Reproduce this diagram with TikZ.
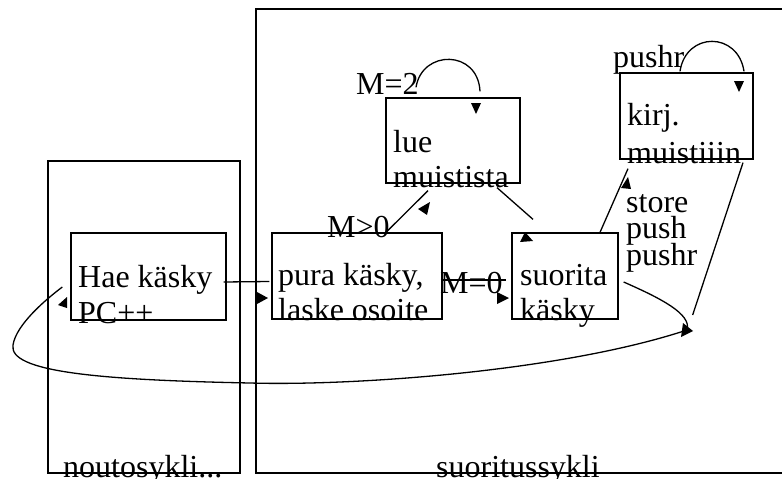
\documentclass[tikz,border=0pt]{standalone}
\usepackage{fontspec}
\setmainfont{Liberation Serif}
\usetikzlibrary{calc}
\begin{document}
\begin{tikzpicture}[x=1pt,y=-1pt,
  box/.style={draw,rectangle,inner sep=0pt,line width=1.3pt},
  lbl/.style={anchor=base west,inner sep=0pt,font=\fontsize{32}{36}\selectfont},
  conn/.style={line width=1.3pt},
  tip/.style={fill=black}]
\useasboundingbox (0,0) rectangle (782,479);
% outer boxes
\node[box,minimum width=192pt,minimum height=312pt] (nouto) at (144,317) {};
\node[box,minimum width=534pt,minimum height=464pt] (suor) at (523,241) {};
% state boxes
\node[box,minimum width=155pt,minimum height=87pt] (hae) at (148.5,276.5) {};
\node[box,minimum width=170pt,minimum height=86pt] (pura) at (357,276) {};
\node[box,minimum width=106pt,minimum height=86pt] (suo) at (565,276) {};
\node[box,minimum width=134pt,minimum height=85pt] (lue) at (453,140.5) {};
\node[box,minimum width=133pt,minimum height=86pt] (kirj) at (686.5,116) {};
% texts
\node[lbl] (t1) at (78,287) {Hae käsky};
\node[lbl] (t2) at (78,323) {PC++};
\node[lbl] (t3) at (278,285) {pura käsky,};
\node[lbl] (t4) at (278,320) {laske osoite};
\node[lbl] (t5) at (520,285) {suorita};
\node[lbl] (t6) at (520,320) {käsky};
\node[lbl] (t7) at (393,152) {lue};
\node[lbl] (t8) at (393,187) {muistista};
\node[lbl] (t9) at (627,125) {kirj.};
\node[lbl] (t10) at (627,163) {muistiiin};
\node[lbl] (l1) at (356,94) {M=2};
\node[lbl] (l2) at (327,237) {M>0};
\node[lbl] (l3) at (440,293) {M=0};
\node[lbl] (l4) at (613,67) {pushr};
\node[lbl] (l5) at (626,212) {store};
\node[lbl] (l6) at (626,238) {push};
\node[lbl] (l7) at (626,265) {pushr};
\node[lbl] (c1) at (63,477) {noutosykli...};
\node[lbl] (c2) at (436,477) {suoritussykli};
% connectors
\draw[conn] ($(hae.east)+(-3,5.5)$) -- ($(pura.west)+(-2,5.5)$);
\draw[conn] ($(pura.east)+(-2,4)$) -- ($(suo.west)+(-5,4)$);
\draw[conn] ($(pura.north)+(30,-1)$) -- ($(lue.south)+(-25,7)$);
\draw[conn] ($(lue.south)+(44,4)$) -- ($(suo.north)+(-32,-13)$);
\draw[conn] ($(suo.north)+(35,0)$) -- ($(kirj.south)+(-58.5,9)$);
\draw[conn] ($(kirj.south)+(56.5,3)$) -- ($(suo.east)+(74,39)$);
\draw[conn] ($(lue.north)+(-37,-10)$) .. controls +(6,-38) and +(-2,-42) .. ($(lue.north)+(27,-6)$);
\draw[conn] ($(kirj.north)+(-6.5,-1)$) .. controls +(6,-40) and +(-6,-40) .. ($(kirj.north)+(57.5,-1)$);
\draw[conn] ($(suo.east)+(5,6)$) .. controls (660,298) and (692,314) .. (687,330)
  .. controls (560,372) and (350,386) .. (250,383)
  .. controls (100,380) and (8,372) .. (13,345)
  .. controls (16,325) and (45,300) .. ($(hae.west)+(-8,10.5)$);
% arrowheads
\fill[tip] (257,292) -- (257,304) -- (268,298) -- cycle;
\fill[tip] (497,292) -- (497,304) -- (509,298) -- cycle;
\fill[tip] (430,202) -- (418,209) -- (427,215) -- cycle;
\fill[tip] (525,232) -- (520,242) -- (533,241) -- cycle;
\fill[tip] (471,103) -- (481,103) -- (476,114) -- cycle;
\fill[tip] (734,81) -- (744,81) -- (739,92) -- cycle;
\fill[tip] (628,177) -- (621,188) -- (631,189) -- cycle;
\fill[tip] (683,323) -- (693,331) -- (681,337) -- cycle;
\fill[tip] (67,297) -- (58,305) -- (67,308) -- cycle;
\end{tikzpicture}
\end{document}
